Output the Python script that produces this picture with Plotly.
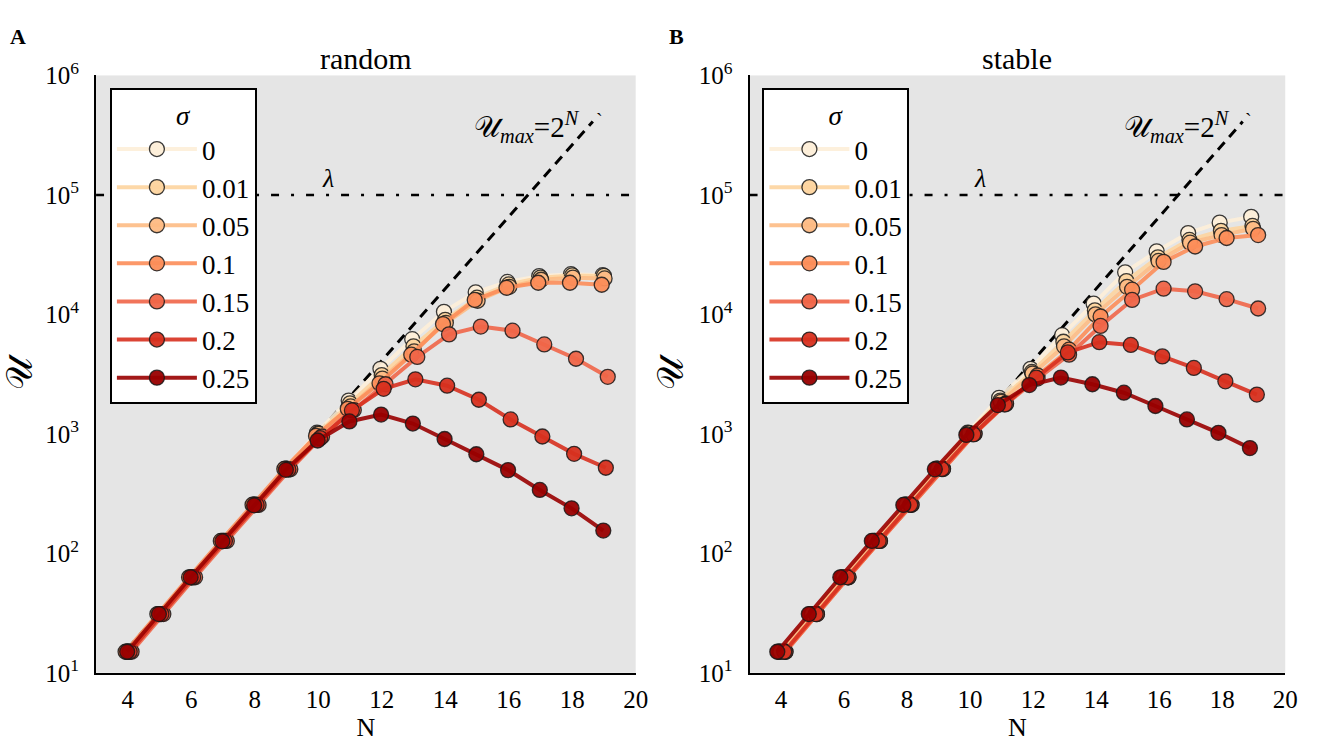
import plotly.graph_objects as go

# ---------------- data ----------------
N = [4, 5, 6, 7, 8, 9, 10, 11, 12, 13, 14, 15, 16, 17, 18, 19]
sigma_labels = ["0", "0.01", "0.05", "0.1", "0.15", "0.2", "0.25"]

random_s0 = [15, 31, 63, 127, 255, 511, 1023, 1900, 3500, 6200, 10500, 15300, 18700, 20900, 21700, 21300]
random_s001 = [15, 31, 63, 127, 255, 511, 1010, 1800, 3100, 5400, 9000, 13800, 17800, 20300, 21200, 21000]
random_s005 = [15, 31, 63, 127, 255, 510, 1000, 1700, 2900, 4900, 8500, 13000, 17000, 19500, 20300, 20000]
random_s01 = [15, 31, 63, 127, 255, 508, 960, 1620, 2650, 4600, 8300, 13200, 16700, 18400, 18400, 17700]
random_s015 = [15, 31, 63, 127, 254, 505, 950, 1580, 2600, 4400, 6800, 7900, 7300, 5600, 4250, 3000]
random_s02 = [15, 31, 63, 127, 254, 503, 920, 1570, 2380, 2860, 2530, 1930, 1320, 950, 680, 520]
random_s025 = [15, 31, 63, 126, 252, 500, 880, 1270, 1450, 1220, 905, 675, 497, 339, 238, 155]

stable_s0 = [15, 31, 63, 127, 255, 511, 1023, 2000, 3500, 6700, 12300, 22500, 33700, 47900, 58600, 65500]
stable_s001 = [15, 31, 63, 127, 255, 511, 1020, 1900, 3300, 5900, 10800, 19000, 30000, 42000, 50000, 55000]
stable_s005 = [15, 31, 63, 127, 255, 510, 1010, 1850, 3200, 5400, 10000, 17000, 28000, 39800, 46100, 52000]
stable_s01 = [15, 31, 63, 127, 255, 510, 1000, 1800, 3080, 5060, 9600, 16100, 27500, 37000, 43600, 46100]
stable_s015 = [15, 31, 63, 127, 255, 508, 1000, 1780, 2900, 4600, 8000, 13200, 16400, 15600, 13400, 11200]
stable_s02 = [15, 31, 63, 127, 255, 508, 990, 1760, 2950, 4800, 5850, 5550, 4450, 3560, 2750, 2130]
stable_s025 = [15, 31, 63, 127, 254, 505, 980, 1740, 2560, 2960, 2600, 2210, 1710, 1320, 1020, 760]

random_series = [random_s0, random_s001, random_s005, random_s01, random_s015, random_s02, random_s025]
stable_series = [stable_s0, stable_s001, stable_s005, stable_s01, stable_s015, stable_s02, stable_s025]

lambda_value = 1e5
umax_N = [4, 18.65]
umax_U = [2 ** 4, 2 ** 18.65]

x_ticks = [4, 6, 8, 10, 12, 14, 16, 18, 20]
y_ticks = [1e1, 1e2, 1e3, 1e4, 1e5, 1e6]
y_ticktext = ["10<sup>1</sup>", "10<sup>2</sup>", "10<sup>3</sup>", "10<sup>4</sup>",
              "10<sup>5</sup>", "10<sup>6</sup>"]

# ---------------- style ----------------
colors = ["#fdeed8", "#fdd49e", "#fdbb84", "#fc8d59", "#ef6548", "#d7301f", "#990000"]
dodge_random = [-0.04, 0.0, 0.02, -0.07, 0.12, 0.06, -0.02]
dodge_stable = [-0.08, -0.04, -0.02, 0.14, 0.14, 0.1, -0.12]
FONT = "Liberation Serif"
W, H = 1321, 749


def rgba(hexc, a):
    h = hexc.lstrip("#")
    return "rgba(%d,%d,%d,%.2f)" % (int(h[0:2], 16), int(h[2:4], 16), int(h[4:6], 16), a)


fig = go.Figure()

panels = [("x", "y", "legend", random_series, dodge_random),
          ("x2", "y2", "legend2", stable_series, dodge_stable)]

for xa, ya, leg, series, dodge in panels:
    fig.add_trace(go.Scatter(x=[3, 20], y=[lambda_value, lambda_value], mode="lines",
                             line=dict(color="black", width=2.5, dash="8px,12px,3px,12px"),
                             xaxis=xa, yaxis=ya, showlegend=False, hoverinfo="skip"))
    fig.add_trace(go.Scatter(x=umax_N, y=umax_U, mode="lines",
                             line=dict(color="black", width=3, dash="10px,7px"),
                             xaxis=xa, yaxis=ya, showlegend=False, hoverinfo="skip"))
    for i, vals in enumerate(series):
        fig.add_trace(go.Scatter(
            x=[n + dodge[i] for n in N], y=vals, mode="lines+markers",
            name=sigma_labels[i], legend=leg, legendgroup=leg + str(i),
            line=dict(color=rgba(colors[i], 0.9), width=4),
            marker=dict(size=15, color=rgba(colors[i], 0.95),
                        line=dict(color="rgba(25,25,25,0.85)", width=1.3)),
            xaxis=xa, yaxis=ya))

xdomA = [97 / W, 642 / W]
xdomB = [757 / W, 1298 / W]
ydom = [(H - 684) / H, (H - 60) / H]

axis_common_x = dict(range=[3, 20], tickvals=x_ticks, showgrid=False, zeroline=False,
                     showline=True, linecolor="black", linewidth=2, ticks="outside",
                     ticklen=3, tickcolor="rgba(0,0,0,0)",
                     tickfont=dict(family=FONT, size=25, color="black"),
                     title=dict(text="N", font=dict(family=FONT, size=26, color="black"), standoff=4))
axis_common_y = dict(type="log", range=[1, 6], tickvals=y_ticks, ticktext=y_ticktext,
                     showgrid=False, zeroline=False, showline=True, linecolor="black",
                     linewidth=2, ticks="outside", ticklen=10, tickcolor="rgba(0,0,0,0)",
                     tickfont=dict(family=FONT, size=25, color="black"),
                     title=dict(text="𝒰", font=dict(family=FONT, size=36, color="black"), standoff=4))

legend_common = dict(bgcolor="white", bordercolor="black", borderwidth=2,
                     font=dict(family=FONT, size=27, color="black"),
                     title=dict(text="<i>σ</i>", side="top center",
                                font=dict(family=FONT, size=27, color="black")),
                     tracegroupgap=0, itemwidth=80, xanchor="left", yanchor="top",
                     y=1 - 73 / H)

fig.update_layout(
    width=W, height=H, margin=dict(l=0, r=0, t=0, b=0),
    paper_bgcolor="white", plot_bgcolor="#e5e5e5",
    xaxis=dict(domain=xdomA, anchor="y", **axis_common_x),
    yaxis=dict(domain=ydom, anchor="x", **axis_common_y),
    xaxis2=dict(domain=xdomB, anchor="y2", **axis_common_x),
    yaxis2=dict(domain=ydom, anchor="x2", **axis_common_y),
    legend=dict(x=111 / W, **legend_common),
    legend2=dict(x=770 / W, **legend_common),
)

annots = []
for xa, ya, title, letter, lx in [("x", "y", "random", "A", 18), ("x2", "y2", "stable", "B", 683)]:
    dom = xdomA if xa == "x" else xdomB
    annots.append(dict(text=title, x=(dom[0] + dom[1]) / 2, y=1 - 42 / H, xref="paper", yref="paper",
                       xanchor="center", yanchor="middle", showarrow=False,
                       font=dict(family=FONT, size=30, color="black")))
    annots.append(dict(text="<b>" + letter + "</b>", x=lx / W, y=1 - 19 / H, xref="paper", yref="paper",
                       xanchor="center", yanchor="middle", showarrow=False,
                       font=dict(family=FONT, size=22, color="black")))
    annots.append(dict(text="<i>λ</i>", x=10.3, y=5.0, xref=xa, yref=ya, yanchor="bottom", yshift=0,
                       showarrow=False, font=dict(family=FONT, size=26, color="black")))
    annots.append(dict(text="𝒰<sub><i>max</i></sub>=2<sup><i>N</i></sup>", x=18.3, y=5.57,
                       xref=xa, yref=ya, xanchor="right", showarrow=False,
                       font=dict(family=FONT, size=29, color="black")))
    annots.append(dict(text="`", x=18.85, y=5.62, xref=xa, yref=ya, showarrow=False,
                       font=dict(family=FONT, size=20, color="black")))
for a in annots:
    fig.add_annotation(**a)

fig.write_html("out.html")
